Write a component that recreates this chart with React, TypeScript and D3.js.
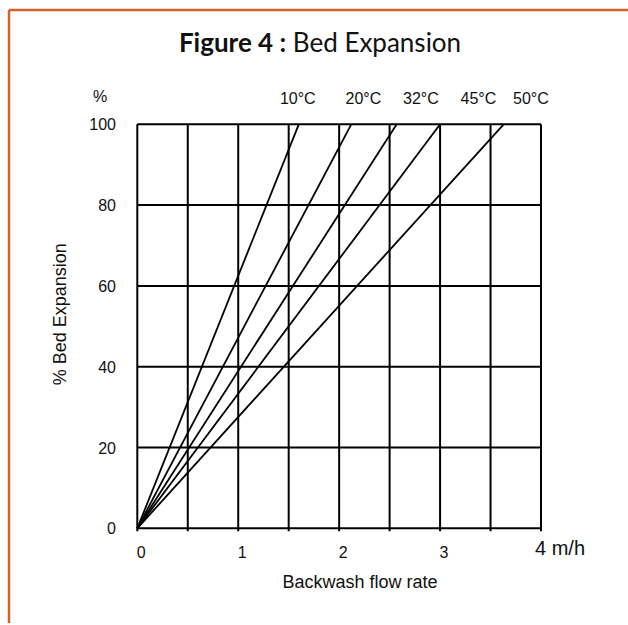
import React from "react";
import * as d3 from "d3";

// Bed expansion (%) vs backwash flow rate (m/h) – each curve is a straight line from the origin
const TEMPS = ["10°C", "20°C", "32°C", "45°C", "50°C"];
// flow rate (m/h) at which each curve reaches 100 % expansion
const FLOW_AT_100 = [1.6, 2.12, 2.57, 3.0, 3.63];
// where the temperature captions sit along the flow axis
const TEMP_LABEL_FLOW = [1.59, 2.24, 2.81, 3.38, 3.9];

const X_GRID = d3.range(0, 4.01, 0.5);
const X_TICKS = [0, 1, 2, 3];
const Y_TICKS = [0, 20, 40, 60, 80, 100];

const W = 628;
const H = 625;
const ORANGE = "#d4602e";
const SANS = "'Liberation Sans', Arial, sans-serif";

export default function App() {
  const x = d3.scaleLinear().domain([0, 4]).range([137.3, 541]);
  const y = d3.scaleLinear().domain([0, 100]).range([528.3, 124.3]);
  const line = d3.line<[number, number]>()
    .x((d) => x(d[0]))
    .y((d) => y(d[1]));

  const [x0, x1] = x.range();
  const [y0, y1] = y.range();

  return (
    <svg
      width={W}
      height={H}
      style={{ position: "absolute", left: 0, top: 0, background: "#fff" }}
    >
      {/* frame */}
      <line x1={9} y1={10} x2={W} y2={10} stroke={ORANGE} strokeWidth={2.5} />
      <line x1={9} y1={10} x2={9} y2={623} stroke={ORANGE} strokeWidth={2.5} />

      {/* title */}
      <text
        x={320}
        y={52}
        textAnchor="middle"
        fontFamily="Lato, 'Open Sans', sans-serif"
        fontSize={26}
        fill="#111"
      >
        <tspan fontWeight="bold">Figure 4 :</tspan>
        <tspan> Bed Expansion</tspan>
      </text>

      {/* grid */}
      <g stroke="#000" strokeWidth={2}>
        {X_GRID.map((v) => (
          <line key={"vx" + v} x1={x(v)} x2={x(v)} y1={y1} y2={y0 + 3} />
        ))}
        {Y_TICKS.map((v) => (
          <line key={"hy" + v} x1={x0} x2={x1} y1={y(v)} y2={y(v)} />
        ))}
      </g>

      {/* temperature curves */}
      <g fill="none" stroke="#000" strokeWidth={1.8}>
        {FLOW_AT_100.map((f, i) => (
          <path key={TEMPS[i]} d={line([[0, 0], [f, 100]]) || ""} />
        ))}
      </g>

      {/* temperature captions */}
      <g fontFamily={SANS} fontSize={16} fill="#111" textAnchor="middle">
        {TEMPS.map((t, i) => (
          <text key={t} x={x(TEMP_LABEL_FLOW[i])} y={103.5}>
            {t}
          </text>
        ))}
      </g>

      {/* y axis labels */}
      <g fontFamily={SANS} fontSize={16} fill="#111" textAnchor="end">
        {Y_TICKS.map((v) => (
          <text key={"yl" + v} x={116} y={y(v) + 6}>
            {v}
          </text>
        ))}
      </g>
      <text x={100} y={101.5} textAnchor="middle" fontFamily={SANS} fontSize={16} fill="#111">
        %
      </text>
      <text
        transform={`translate(66,${(y0 + y1) / 2 - 12}) rotate(-90)`}
        textAnchor="middle"
        fontFamily={SANS}
        fontSize={18}
        fill="#111"
      >
        % Bed Expansion
      </text>

      {/* x axis labels */}
      <g fontFamily={SANS} fontSize={16} fill="#111" textAnchor="middle">
        {X_TICKS.map((v) => (
          <text key={"xl" + v} x={x(v) + 4} y={557.5}>
            {v}
          </text>
        ))}
      </g>
      <text x={535} y={555} fontFamily={SANS} fontSize={20} fill="#111">
        4 m/h
      </text>
      <text x={360} y={588} textAnchor="middle" fontFamily={SANS} fontSize={18} fill="#111">
        Backwash flow rate
      </text>
    </svg>
  );
}
